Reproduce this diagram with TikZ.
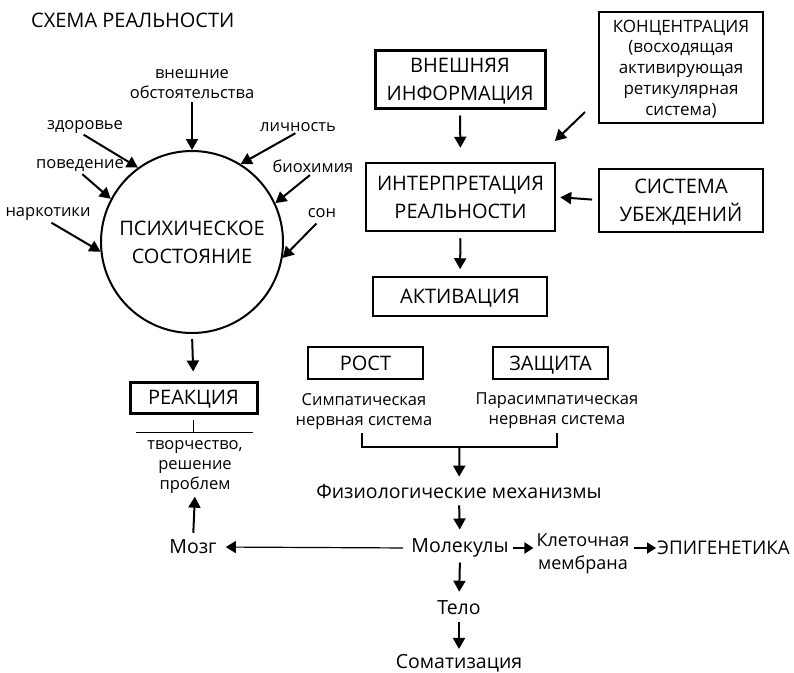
\documentclass[tikz,border=0pt]{standalone}
\usepackage{fontspec}
\setmainfont{Open Sans}
\usetikzlibrary{arrows.meta}
\begin{document}
\begin{tikzpicture}[x=1pt,y=-1pt,
  lbl/.style={font=\fontsize{16.5}{20}\selectfont, align=center, inner sep=0pt},
  mid/.style={font=\fontsize{19.5}{22}\selectfont, align=center, inner sep=0pt},
  big/.style={font=\fontsize{20}{28}\selectfont, align=center, inner sep=0pt},
  boxx/.style={draw, align=center, inner sep=0pt, text depth=0pt},
  one/.style={text height=14.4pt, text depth=0pt},
  two/.style={text height=42.4pt, text depth=0pt},
  arr/.style={line width=2pt, -{Triangle[length=11pt,width=12pt]}},
  sarr/.style={line width=1.8pt, -{Triangle[length=9pt,width=11pt]}},
]
\path[use as bounding box] (0,0) rectangle (794,672);

% title
\node[big, anchor=west] (title) at (31,20) {СХЕМА РЕАЛЬНОСТИ};

% circle
\node[circle, draw, line width=2pt, minimum size=182pt, inner sep=0pt, big, two] (psy) at (192,242) {ПСИХИЧЕСКОЕ\\СОСТОЯНИЕ};

% labels around circle
\node[lbl] (vne) at (192,84) {внешние\\обстоятельства};
\node[lbl] (zdr) at (85,127) {здоровье};
\node[lbl] (pov) at (80,166) {поведение};
\node[lbl] (nar) at (48,214) {наркотики};
\node[lbl] (lic) at (298,127) {личность};
\node[lbl] (bio) at (313,166) {биохимия};
\node[lbl] (son) at (322,213) {сон};

\draw[arr, shorten <=3pt] (vne.south) -- (psy.north);
\draw[arr, shorten <=2pt] ([xshift=-3pt]zdr.south) -- (psy.126);
\draw[arr, shorten <=3pt] (pov.south) -- (psy.152);
\draw[arr, shorten <=4pt] (nar.south) -- (psy.186);
\draw[arr, shorten <=3pt] (lic.south) -- (psy.58);
\draw[arr, shorten <=4pt] (bio.south) -- (psy.25);
\draw[arr, shorten <=8pt] (son.south) -- (psy.-10);

% right column
\node[boxx, big, two, line width=3pt, minimum width=170pt, minimum height=58pt] (ext) at (460,79) {ВНЕШНЯЯ\\ИНФОРМАЦИЯ};
\node[boxx, line width=2pt, minimum width=164pt, minimum height=111pt,
      font=\fontsize{17}{20.7}\selectfont, text height=95pt] (konc) at (681,67.5)
      {КОНЦЕНТРАЦИЯ\\(восходящая\\активирующая\\ретикулярная\\система)};
\node[boxx, big, two, line width=2.5pt, minimum width=189pt, minimum height=68pt] (interp) at (460.5,197) {ИНТЕРПРЕТАЦИЯ\\РЕАЛЬНОСТИ};
\node[boxx, big, two, line width=2pt, minimum width=164pt, minimum height=63pt] (sys) at (681,200) {СИСТЕМА\\УБЕЖДЕНИЙ};
\node[boxx, big, one, line width=1.5pt, minimum width=174pt, minimum height=39pt] (akt) at (460,296.5) {АКТИВАЦИЯ};

\draw[arr, shorten <=6pt, shorten >=14pt] (ext.south) -- (interp.north);
\coordinate (ka) at (585,112);
\coordinate (kb) at (555,141);
\draw[arr] (ka) -- (kb);
\draw[arr, shorten <=6pt, shorten >=4pt] (sys.west) -- (interp.east);
\draw[arr, shorten <=6pt, shorten >=7pt] (interp.south) -- (akt.north);

% reaction
\node[boxx, big, one, line width=3pt, minimum width=127pt, minimum height=31pt] (rea) at (193.5,397.5) {РЕАКЦИЯ};
\draw[arr, shorten <=5pt, shorten >=9pt] (psy.south) -- (rea.north);
\coordinate (t0) at (193,420);
\coordinate (t1) at (193,432);
\coordinate (hl) at (136,432);
\coordinate (hr) at (253,432);
\draw[line width=1pt] (t0) -- (t1);
\draw[line width=1pt] (hl) -- (hr);
\node[lbl] (tvo) at (195,467) {творчество,\\решение\\проблем};
\node[mid] (mozg) at (193,547) {Мозг};
\draw[arr, shorten <=7pt, shorten >=3pt] (mozg.north) -- (tvo.south);

% growth / protection
\node[boxx, big, one, line width=1.5pt, minimum width=115pt, minimum height=32pt] (rost) at (365.5,363) {РОСТ};
\node[boxx, big, one, line width=1.5pt, minimum width=115pt, minimum height=32pt] (zas) at (550.5,363) {ЗАЩИТА};
\node[lbl] (simp) at (364,411) {Симпатическая\\нервная система};
\node[lbl] (para) at (557,411) {Парасимпатическая\\нервная система};
\coordinate (b1) at (362,433);
\coordinate (b2) at (557,433);
\coordinate (bm) at (459.5,447);
\draw[line width=1.2pt] (b1) |- (bm) -| (b2);

\node[mid] (fiz) at (459,492) {Физиологические механизмы};
\draw[arr, shorten >=8pt] (bm) -- (fiz.north);
\node[mid] (mol) at (460,548) {Молекулы};
\draw[arr, shorten <=6pt, shorten >=9pt] (fiz.south) -- (mol.north);
\node[lbl, font=\fontsize{18}{23}\selectfont, text height=35.9pt, text depth=0pt] (kle) at (583,551.5) {Клеточная\\мембрана};
\node[mid, anchor=west, font=\fontsize{18.8}{22}\selectfont] (epi) at (657,548) {ЭПИГЕНЕТИКА};
\draw[sarr, shorten <=4pt, shorten >=3pt] (mol.east) -- ([yshift=3.5pt]kle.west);
\draw[sarr, shorten <=4pt, shorten >=1pt] ([yshift=3.5pt]kle.east) -- (epi.west);
\draw[line width=1.2pt, -{Triangle[length=10pt,width=12pt]}, shorten <=8pt, shorten >=9pt] (mol.west) -- (mozg.east);
\node[mid] (telo) at (459,608) {Тело};
\node[mid] (soma) at (459,663) {Соматизация};
\draw[arr, shorten <=5pt, shorten >=9pt] (mol.south) -- (telo.north);
\draw[arr, shorten <=7pt, shorten >=5pt] (telo.south) -- (soma.north);
\end{tikzpicture}
\end{document}
